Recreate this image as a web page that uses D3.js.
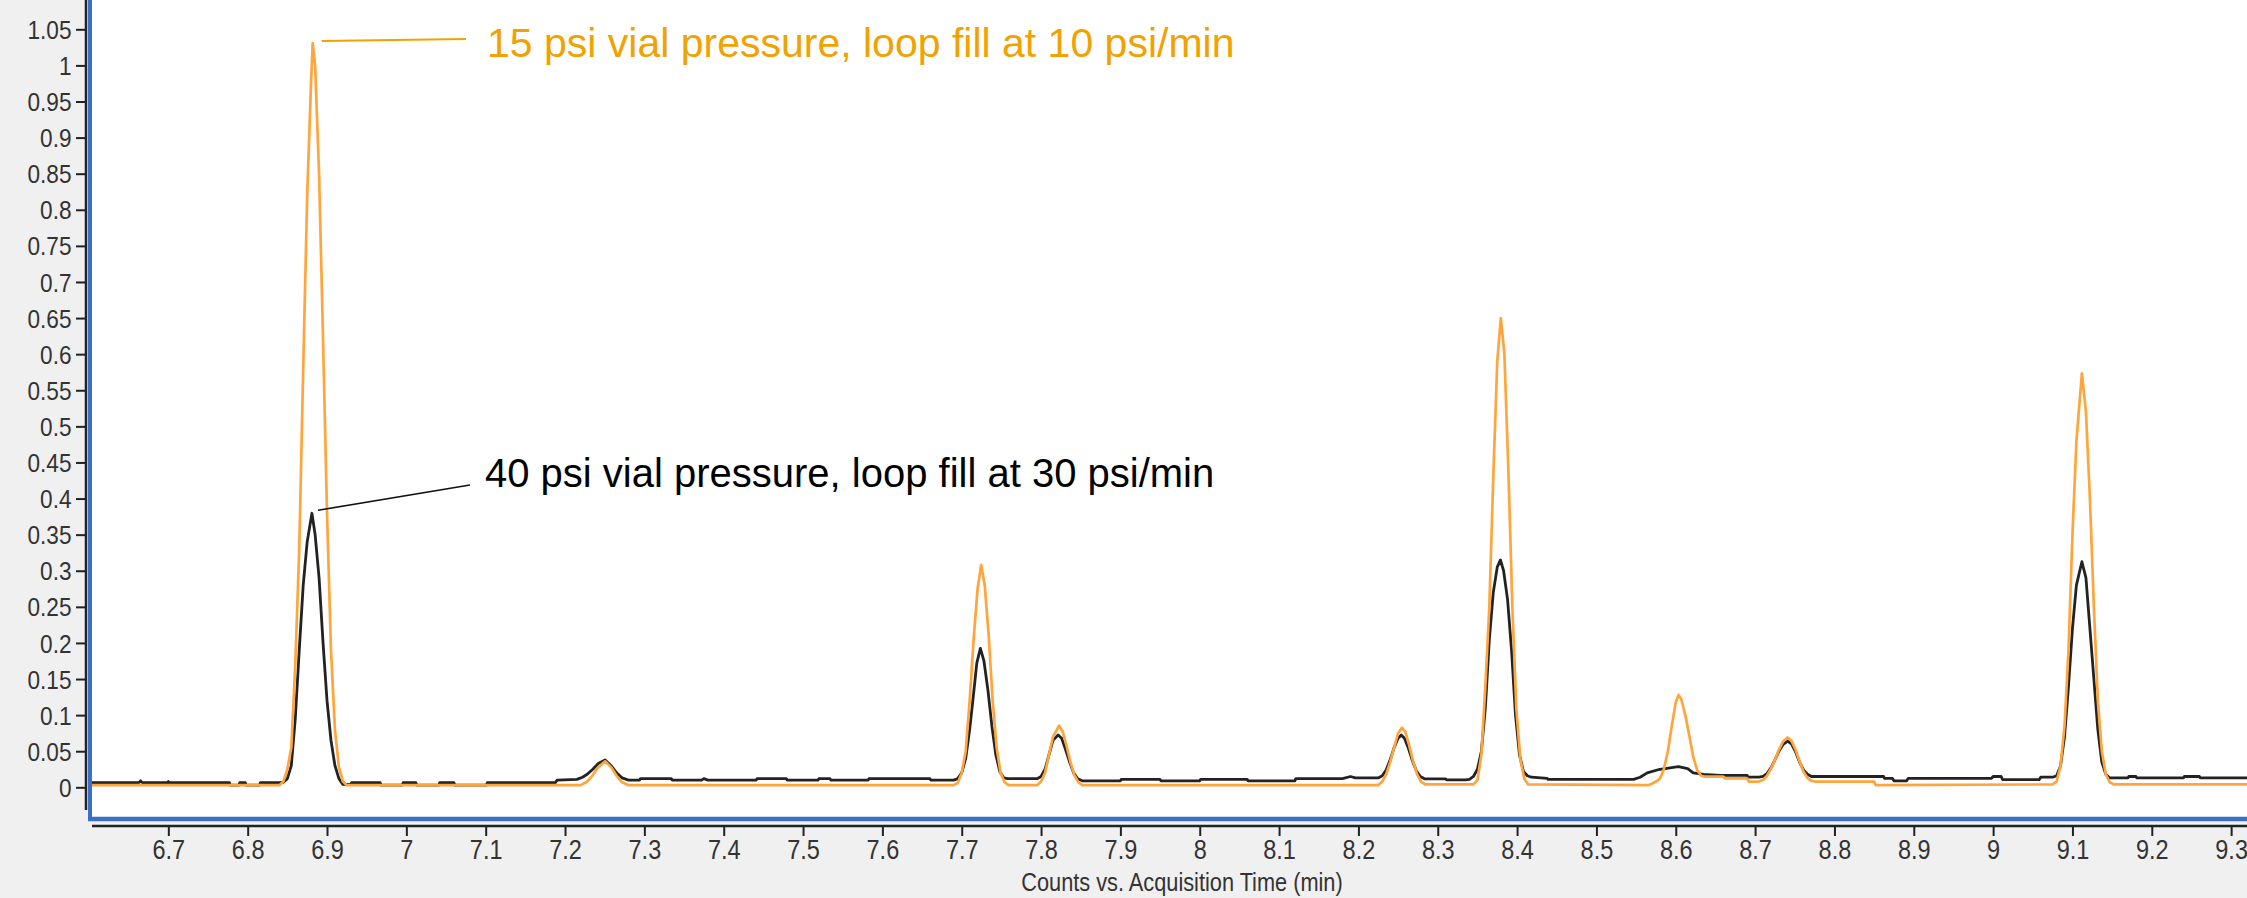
<!DOCTYPE html>
<html>
<head>
<meta charset="utf-8">
<script src="https://cdn.jsdelivr.net/npm/d3@7"></script>
<style>
  html, body { margin: 0; padding: 0; background: #f0f0f0; }
  svg { display: block; }
  text { font-family: "Liberation Sans", Arial, sans-serif; }
</style>
</head>
<body>
<svg id="chart" width="2247" height="898"></svg>
<script>
// Chromatogram traces: [acquisition time (min), counts]
const vial15psi = [
  [6.600, 0.003], [6.840, 0.003],
  [6.845, 0.008], [6.850, 0.025], [6.855, 0.055], [6.860, 0.17], [6.865, 0.33], [6.870, 0.58],
  [6.875, 0.82], [6.880, 0.98], [6.882, 1.031], [6.885, 1.0], [6.890, 0.85], [6.895, 0.62],
  [6.900, 0.38], [6.905, 0.19], [6.910, 0.08], [6.915, 0.028], [6.920, 0.008], [6.925, 0.003],
  [7.220, 0.003], [7.228, 0.008], [7.235, 0.017], [7.242, 0.028], [7.2505, 0.036], [7.258, 0.028],
  [7.265, 0.016], [7.272, 0.007], [7.280, 0.003],
  [7.690, 0.003], [7.695, 0.006], [7.700, 0.02], [7.705, 0.05], [7.710, 0.12], [7.715, 0.205],
  [7.720, 0.275], [7.7245, 0.308], [7.729, 0.28], [7.734, 0.21], [7.739, 0.12], [7.744, 0.055],
  [7.749, 0.02], [7.754, 0.007], [7.759, 0.003],
  [7.795, 0.003], [7.800, 0.008], [7.805, 0.02], [7.810, 0.045], [7.815, 0.07], [7.8227, 0.0853],
  [7.827, 0.078], [7.832, 0.058], [7.837, 0.035], [7.842, 0.017], [7.847, 0.007], [7.852, 0.003],
  [8.225, 0.003], [8.230, 0.008], [8.235, 0.018], [8.240, 0.035], [8.245, 0.055], [8.250, 0.075],
  [8.2547, 0.0826], [8.259, 0.077], [8.264, 0.058], [8.269, 0.036], [8.274, 0.018], [8.279, 0.008],
  [8.284, 0.004],
  [8.345, 0.004], [8.350, 0.01], [8.355, 0.045], [8.360, 0.14], [8.365, 0.25], [8.370, 0.43],
  [8.375, 0.59], [8.3795, 0.65], [8.384, 0.60], [8.389, 0.44], [8.394, 0.25], [8.399, 0.11],
  [8.404, 0.04], [8.409, 0.012], [8.414, 0.004],
  [8.565, 0.003], [8.570, 0.005], [8.575, 0.008], [8.580, 0.012], [8.585, 0.025], [8.590, 0.05],
  [8.595, 0.085], [8.600, 0.118], [8.6035, 0.128], [8.607, 0.122], [8.612, 0.10], [8.617, 0.072],
  [8.622, 0.042], [8.627, 0.024], [8.632, 0.016], [8.637, 0.0147], [8.660, 0.0147], [8.662, 0.0125],
  [8.690, 0.0125], [8.692, 0.008], [8.705, 0.008],
  [8.710, 0.010], [8.715, 0.016], [8.720, 0.026], [8.725, 0.038], [8.730, 0.052], [8.735, 0.063],
  [8.741, 0.069], [8.746, 0.064], [8.751, 0.052], [8.756, 0.036], [8.761, 0.022], [8.766, 0.013],
  [8.771, 0.009], [8.776, 0.008], [8.850, 0.008], [8.852, 0.003],
  [9.075, 0.004], [9.080, 0.008], [9.085, 0.03], [9.090, 0.085], [9.095, 0.19], [9.100, 0.35],
  [9.105, 0.48], [9.1119, 0.5735], [9.117, 0.52], [9.122, 0.40], [9.127, 0.25], [9.132, 0.12],
  [9.137, 0.05], [9.142, 0.018], [9.147, 0.007], [9.152, 0.004], [9.320, 0.004]
];

const vial40psi = [
  [6.600, 0.0065], [6.663, 0.0065], [6.665, 0.009], [6.667, 0.0065], [6.699, 0.0065], [6.700, 0.008],
  [6.701, 0.0065], [6.777, 0.0065], [6.778, 0.003], [6.789, 0.003], [6.790, 0.0065], [6.797, 0.0065],
  [6.798, 0.003], [6.815, 0.003], [6.816, 0.0065], [6.840, 0.0065],
  [6.845, 0.007], [6.850, 0.012], [6.855, 0.03], [6.860, 0.095], [6.865, 0.19], [6.870, 0.28],
  [6.875, 0.34], [6.881, 0.3796], [6.885, 0.35], [6.890, 0.29], [6.895, 0.20], [6.900, 0.12],
  [6.905, 0.065], [6.910, 0.03], [6.915, 0.012], [6.920, 0.004], [6.930, 0.004], [6.931, 0.0065],
  [6.967, 0.0065], [6.968, 0.003], [6.995, 0.003], [6.996, 0.0065], [7.012, 0.0065], [7.013, 0.003],
  [7.041, 0.003], [7.042, 0.0065], [7.060, 0.0065], [7.061, 0.003], [7.101, 0.003], [7.102, 0.0065],
  [7.188, 0.0065], [7.190, 0.010], [7.215, 0.011], [7.222, 0.014], [7.228, 0.018], [7.235, 0.025],
  [7.242, 0.033], [7.2505, 0.038], [7.258, 0.030], [7.265, 0.020], [7.272, 0.013], [7.280, 0.010],
  [7.294, 0.010], [7.295, 0.012], [7.334, 0.012], [7.335, 0.010], [7.372, 0.010], [7.375, 0.012],
  [7.380, 0.010], [7.441, 0.010], [7.442, 0.012], [7.479, 0.012], [7.480, 0.010], [7.519, 0.010],
  [7.520, 0.012], [7.534, 0.012], [7.535, 0.010], [7.582, 0.010], [7.583, 0.012], [7.660, 0.012],
  [7.661, 0.010], [7.690, 0.010],
  [7.695, 0.012], [7.700, 0.02], [7.705, 0.04], [7.710, 0.08], [7.715, 0.13], [7.719, 0.172],
  [7.7235, 0.1925], [7.728, 0.175], [7.733, 0.135], [7.738, 0.085], [7.743, 0.045], [7.748, 0.022],
  [7.753, 0.013], [7.758, 0.012],
  [7.795, 0.012], [7.800, 0.015], [7.805, 0.025], [7.810, 0.045], [7.815, 0.065], [7.8215, 0.0725],
  [7.826, 0.068], [7.831, 0.052], [7.836, 0.035], [7.841, 0.02], [7.846, 0.012], [7.852, 0.009],
  [7.900, 0.009], [7.901, 0.011], [7.950, 0.011], [7.951, 0.009], [8.000, 0.009], [8.001, 0.011],
  [8.060, 0.011], [8.061, 0.009], [8.120, 0.009], [8.121, 0.012], [8.180, 0.012], [8.190, 0.015],
  [8.196, 0.013], [8.225, 0.013],
  [8.230, 0.016], [8.235, 0.024], [8.240, 0.038], [8.245, 0.055], [8.250, 0.068], [8.254, 0.0725],
  [8.258, 0.068], [8.263, 0.054], [8.268, 0.037], [8.273, 0.023], [8.278, 0.015], [8.284, 0.0116],
  [8.310, 0.0116], [8.311, 0.0103], [8.335, 0.0103],
  [8.340, 0.011], [8.345, 0.015], [8.350, 0.025], [8.355, 0.05], [8.360, 0.11], [8.365, 0.205],
  [8.370, 0.27], [8.375, 0.305], [8.379, 0.315], [8.383, 0.30], [8.388, 0.26], [8.393, 0.19],
  [8.398, 0.10], [8.403, 0.045], [8.408, 0.022], [8.413, 0.016], [8.418, 0.014], [8.438, 0.0125],
  [8.439, 0.011], [8.547, 0.011], [8.555, 0.014], [8.564, 0.020], [8.580, 0.025], [8.6034, 0.0286],
  [8.615, 0.026], [8.622, 0.020], [8.635, 0.018], [8.656, 0.0166], [8.690, 0.0166], [8.691, 0.014],
  [8.705, 0.014],
  [8.710, 0.015], [8.715, 0.019], [8.720, 0.027], [8.725, 0.038], [8.730, 0.050], [8.735, 0.059],
  [8.741, 0.064], [8.746, 0.060], [8.751, 0.049], [8.756, 0.035], [8.761, 0.024], [8.766, 0.018],
  [8.771, 0.015], [8.862, 0.015], [8.863, 0.0125], [8.873, 0.0125], [8.875, 0.009], [8.891, 0.009],
  [8.893, 0.0125], [8.998, 0.0125], [9.000, 0.015], [9.010, 0.015], [9.012, 0.0106], [9.058, 0.0106],
  [9.060, 0.014], [9.075, 0.014],
  [9.080, 0.016], [9.085, 0.03], [9.090, 0.07], [9.095, 0.14], [9.100, 0.22], [9.105, 0.28],
  [9.1119, 0.3125], [9.117, 0.29], [9.122, 0.22], [9.127, 0.15], [9.132, 0.08], [9.137, 0.035],
  [9.142, 0.018], [9.147, 0.013],
  [9.170, 0.013], [9.171, 0.015], [9.180, 0.015], [9.181, 0.013], [9.240, 0.013], [9.241, 0.015],
  [9.260, 0.015], [9.261, 0.013], [9.320, 0.013]
];

const yTickValues = [0, 0.05, 0.1, 0.15, 0.2, 0.25, 0.3, 0.35, 0.4, 0.45, 0.5, 0.55, 0.6, 0.65,
                     0.7, 0.75, 0.8, 0.85, 0.9, 0.95, 1, 1.05];
const xTickValues = [6.7, 6.8, 6.9, 7, 7.1, 7.2, 7.3, 7.4, 7.5, 7.6, 7.7, 7.8, 7.9, 8,
                     8.1, 8.2, 8.3, 8.4, 8.5, 8.6, 8.7, 8.8, 8.9, 9, 9.1, 9.2, 9.3];

const label15 = "15 psi vial pressure, loop fill at 10 psi/min";
const label40 = "40 psi vial pressure, loop fill at 30 psi/min";
const xAxisTitle = "Counts vs. Acquisition Time (min)";

// apex of the first peak in each trace, where the callouts point
const apex15 = [6.882, 1.031];
const apex40 = [6.881, 0.3796];

// ---- layout ----
const svg = d3.select("#chart");
const W = 2247, H = 898;
const plotLeft = 89, plotBottom = 820;

const x = d3.scaleLinear().domain([6.6, 9.32]).range([plotLeft, W]);
const y = d3.scaleLinear().domain([-0.045, 1.0906]).range([819.8, 0]);

const fmt = d => String(+d.toFixed(2));
const squeeze = 0.87;   // narrow tick lettering

// plot background
svg.append("rect")
  .attr("x", plotLeft).attr("y", 0)
  .attr("width", W - plotLeft).attr("height", plotBottom)
  .attr("fill", "#ffffff");

svg.append("defs").append("clipPath").attr("id", "plotClip")
  .append("rect")
  .attr("x", plotLeft + 2).attr("y", 0)
  .attr("width", W - plotLeft).attr("height", plotBottom - 3);

// traces
const line = d3.line().x(d => x(d[0])).y(d => y(d[1]));
const traces = svg.append("g").attr("clip-path", "url(#plotClip)");
traces.append("path").datum(vial40psi)
  .attr("d", line).attr("fill", "none")
  .attr("stroke", "#222222").attr("stroke-width", 2.8)
  .attr("stroke-linejoin", "round");
traces.append("path").datum(vial15psi)
  .attr("d", line).attr("fill", "none")
  .attr("stroke", "#ffa53c").attr("stroke-width", 2.7)
  .attr("stroke-linejoin", "round");

// blue frame on the left and bottom of the plot area
svg.append("line")
  .attr("x1", 90).attr("x2", 90).attr("y1", 0).attr("y2", 821)
  .attr("stroke", "#3b6fc8").attr("stroke-width", 4);
svg.append("line")
  .attr("x1", 88).attr("x2", W).attr("y1", 819).attr("y2", 819)
  .attr("stroke", "#3b6fc8").attr("stroke-width", 4.5);

// y axis
const yAxisG = svg.append("g").attr("transform", "translate(86,0)")
  .call(d3.axisLeft(y).tickValues(yTickValues).tickSize(10).tickFormat(fmt));
yAxisG.select(".domain").remove();
yAxisG.selectAll(".tick line").attr("stroke", "#222").attr("stroke-width", 2);
yAxisG.selectAll(".tick text")
  .attr("x", -14.5 / squeeze).attr("dy", "0.35em")
  .attr("transform", `scale(${squeeze},1)`)
  .attr("fill", "#333").attr("font-size", 26);
svg.append("line")
  .attr("x1", 86).attr("x2", 86).attr("y1", 0).attr("y2", 810)
  .attr("stroke", "#222").attr("stroke-width", 2.5);

// x axis
const xAxisG = svg.append("g").attr("transform", "translate(0,826)")
  .call(d3.axisBottom(x).tickValues(xTickValues).tickSize(10).tickFormat(fmt));
xAxisG.select(".domain").remove();
xAxisG.selectAll(".tick line").attr("stroke", "#222").attr("stroke-width", 2);
xAxisG.selectAll(".tick text")
  .attr("y", 33).attr("dy", 0)
  .attr("transform", `scale(${squeeze},1)`)
  .attr("fill", "#333").attr("font-size", 27);
svg.append("line")
  .attr("x1", 92).attr("x2", W).attr("y1", 826).attr("y2", 826)
  .attr("stroke", "#222").attr("stroke-width", 2.5);

svg.append("text")
  .attr("x", 1182 / squeeze).attr("y", 891)
  .attr("transform", `scale(${squeeze},1)`)
  .attr("text-anchor", "middle")
  .attr("fill", "#333").attr("font-size", 25)
  .text(xAxisTitle);

// callouts
const orange = "#f2a200";
const t15 = { x: 487, y: 57 };
const t40 = { x: 485, y: 487 };

svg.append("line")
  .attr("x1", x(apex15[0]) + 9).attr("y1", y(apex15[1]) - 2)
  .attr("x2", t15.x - 21).attr("y2", t15.y - 18)
  .attr("stroke", orange).attr("stroke-width", 2);
svg.append("text")
  .attr("x", t15.x).attr("y", t15.y)
  .attr("fill", orange).attr("font-size", 41)
  .text(label15);

svg.append("line")
  .attr("x1", x(apex40[0]) + 6).attr("y1", y(apex40[1]) - 3)
  .attr("x2", t40.x - 15).attr("y2", t40.y - 2)
  .attr("stroke", "#111").attr("stroke-width", 1.6);
svg.append("text")
  .attr("x", t40.x).attr("y", t40.y)
  .attr("fill", "#000").attr("font-size", 40)
  .text(label40);
</script>
</body>
</html>
